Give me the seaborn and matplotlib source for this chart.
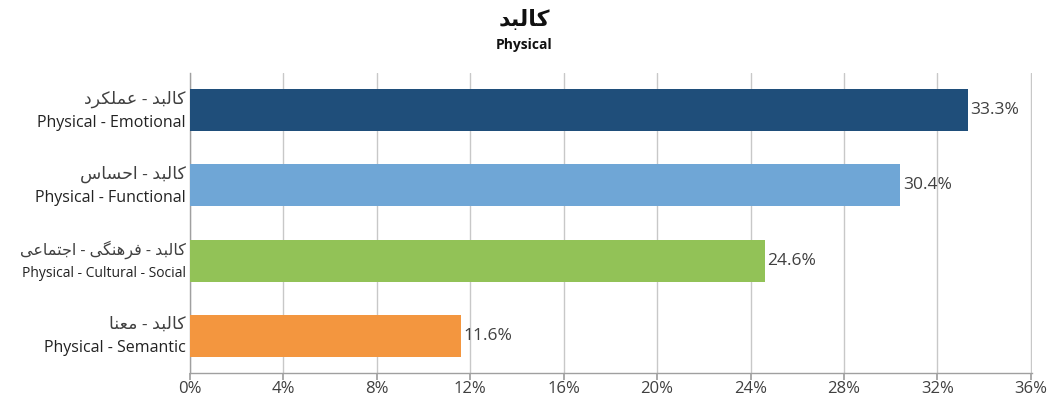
import matplotlib
matplotlib.use("Agg")
import matplotlib.pyplot as plt
import seaborn as sns
import pandas as pd

# ---- data ----
categories_fa = ["کالبد - عملکرد", "کالبد - احساس", "کالبد - فرهنگی - اجتماعی", "کالبد - معنا"]
categories_en = ["Physical - Emotional", "Physical - Functional", "Physical - Cultural - Social", "Physical - Semantic"]
values = [33.3, 30.4, 24.6, 11.6]
colors = ["#1F4E7A", "#6FA6D6", "#92C257", "#F3963F"]
title_fa = "کالبد"
subtitle_en = "Physical"
xticks = [0, 4, 8, 12, 16, 20, 24, 28, 32, 36]

# ---- minimal Persian shaping (presentation forms, visual order) ----
FORMS = {  # isolated, final, initial, medial
    "ا": (0xFE8D, 0xFE8E, None, None),
    "د": (0xFEA9, 0xFEAA, None, None),
    "ر": (0xFEAD, 0xFEAE, None, None),
    "ب": (0xFE8F, 0xFE90, 0xFE91, 0xFE92),
    "ت": (0xFE95, 0xFE96, 0xFE97, 0xFE98),
    "ج": (0xFE9D, 0xFE9E, 0xFE9F, 0xFEA0),
    "ح": (0xFEA1, 0xFEA2, 0xFEA3, 0xFEA4),
    "س": (0xFEB1, 0xFEB2, 0xFEB3, 0xFEB4),
    "ع": (0xFEC9, 0xFECA, 0xFECB, 0xFECC),
    "ف": (0xFED1, 0xFED2, 0xFED3, 0xFED4),
    "ل": (0xFEDD, 0xFEDE, 0xFEDF, 0xFEE0),
    "م": (0xFEE1, 0xFEE2, 0xFEE3, 0xFEE4),
    "ن": (0xFEE5, 0xFEE6, 0xFEE7, 0xFEE8),
    "ه": (0xFEE9, 0xFEEA, 0xFEEB, 0xFEEC),
    "ک": (0xFB8E, 0xFB8F, 0xFB90, 0xFB91),
    "گ": (0xFB92, 0xFB93, 0xFB94, 0xFB95),
    "ی": (0xFBFC, 0xFBFD, 0xFBFE, 0xFBFF),
}


def shape(text):
    out = []
    n = len(text)
    for i, ch in enumerate(text):
        if ch not in FORMS:
            out.append(ch)
            continue
        prev = text[i - 1] if i > 0 else ""
        nxt = text[i + 1] if i < n - 1 else ""
        joins_prev = prev in FORMS and FORMS[prev][2] is not None
        joins_next = nxt in FORMS and FORMS[ch][2] is not None
        iso, fin, ini, med = FORMS[ch]
        if joins_prev and joins_next:
            code = med
        elif joins_prev:
            code = fin
        elif joins_next:
            code = ini
        else:
            code = iso
        out.append(chr(code))
    return "".join(reversed(out))


sns.set_theme(style="white")
plt.rcParams["font.family"] = ["Open Sans", "DejaVu Sans"]

df = pd.DataFrame({"cat": categories_en, "val": values})

fig = plt.figure(figsize=(10.48, 3.98), dpi=100)
ax = fig.add_axes([0.1813, 0.0628, 0.9847 - 0.1813, 0.8166 - 0.0628])

sns.barplot(data=df, y="cat", x="val", hue="cat", palette=colors, dodge=False,
            legend=False, width=0.56, ax=ax, zorder=3, orient="h",
            saturation=1, linewidth=0)

ax.set_xlim(0, 36.05)
ax.set_xticks(xticks)
ax.set_xticklabels([f"{t}%" for t in xticks], fontsize=12, color="#404040")
ax.xaxis.grid(True, color="#C8C8C8", linewidth=1, zorder=0)
ax.yaxis.grid(False)
ax.tick_params(axis="x", length=5, color="#A0A0A0", direction="out", bottom=True, pad=0.5)
ax.set_xlabel("")
ax.set_ylabel("")
ax.set_yticks(range(len(categories_en)))
ax.set_yticklabels([""] * len(categories_en))
ax.tick_params(axis="y", length=0)

for s in ["top", "right"]:
    ax.spines[s].set_visible(False)
for s in ["left", "bottom"]:
    ax.spines[s].set_color("#A0A0A0")
    ax.spines[s].set_linewidth(1)

for i, (fa, en, v) in enumerate(zip(categories_fa, categories_en, values)):
    long_label = len(en) > 22
    ax.text(v + 0.12, i, f"{v:.1f}%", va="center", ha="left", fontsize=12.5, color="#404040")
    ax.annotate(shape(fa), xy=(0, i), xycoords=("axes fraction", "data"),
                xytext=(-3, 8), textcoords="offset points", ha="right", va="center",
                fontsize=11.5 if long_label else 12.5, color="#404040")
    ax.annotate(en, xy=(0, i), xycoords=("axes fraction", "data"),
                xytext=(-3, -9), textcoords="offset points", ha="right", va="center",
                fontsize=10 if long_label else 11.5, color="#222222")

fig.text(0.5, 0.948, shape(title_fa), ha="center", va="center", fontsize=16,
         fontweight="bold", color="#111111")
fig.text(0.5, 0.888, subtitle_en, ha="center", va="center", fontsize=10,
         fontweight="bold", color="#111111")

fig.savefig("out.png", dpi=100)
